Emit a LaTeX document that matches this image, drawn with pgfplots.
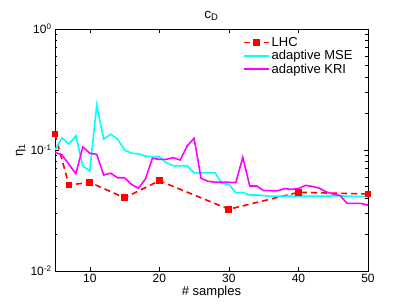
\documentclass[border=0pt]{standalone}
\usepackage{fontspec}
\setmainfont{Liberation Sans}
\usepackage{pgfplots}
\pgfplotsset{compat=1.18}
\definecolor{mcyan}{RGB}{0,255,255}
\definecolor{mmag}{RGB}{255,0,255}
\definecolor{mred}{RGB}{255,0,0}
\begin{document}
\begin{tikzpicture}
\useasboundingbox (-55pt,-35pt) rectangle (352pt,271pt);
\begin{axis}[
  at={(0pt,0pt)}, anchor=south west,
  scale only axis, width=313pt, height=242pt,
  xmin=5, xmax=50, ymode=log, ymin=0.01, ymax=1,
  xtick={10,20,30,40,50},
  ytick={0.01,0.1,1},
  yticklabels={10\textsuperscript{-2},10\textsuperscript{-1},10\textsuperscript{0}},
  /pgf/number format/assume math mode=true,
  tick label style={font=\fontsize{12}{14}\selectfont},
  tick align=inside, major tick length=4pt, minor tick length=2.5pt,
  xtick pos=both, ytick pos=both,
  axis line style={line width=0.6pt},
  every tick/.style={black, line width=0.5pt},
  title={c\textsubscript{D}},
  title style={font=\fontsize{13.5}{15}\selectfont, yshift=-1pt},
  xlabel={\# samples},
  ylabel={η\textsubscript{1}},
  label style={font=\fontsize{13}{15}\selectfont},
  xlabel style={yshift=4pt},
  ylabel style={yshift=-2pt},
  legend cell align=left,
  legend style={at={(0.597,0.979)}, anchor=north west, draw=none, fill=none,
    font=\fontsize{13}{15}\selectfont, row sep=-1.5pt, inner sep=1pt},
  legend image code/.code={\draw[#1, mark repeat=2, mark phase=2] plot coordinates {(0pt,0pt) (12.5pt,0pt) (25pt,0pt)};},
]
\addplot[mred, dashed, dash pattern=on 6pt off 4pt, line width=1.6pt, mark=square*, mark size=2.6pt, mark options={solid, fill=mred}]
coordinates {(5,0.1355) (7,0.0514) (10,0.054) (15,0.0403) (20,0.0557) (30,0.0324) (40,0.0447) (50,0.0433)};
\addlegendentry{LHC}
\addplot[mcyan, line width=1.6pt] coordinates {
(5,0.100) (6,0.126) (7,0.112) (8,0.131) (9,0.0738) (10,0.067) (11,0.235) (12,0.123) (13,0.135) (14,0.123)
(15,0.100) (16,0.094) (17,0.093) (18,0.089) (19,0.088) (20,0.088) (21,0.0785) (22,0.0741) (23,0.0741) (24,0.0741)
(25,0.0648) (26,0.0648) (27,0.0648) (28,0.0648) (29,0.053) (30,0.052) (31,0.0444) (32,0.0446) (33,0.0425) (34,0.0425)
(35,0.042) (36,0.0415) (37,0.0415) (38,0.0415) (39,0.0415) (40,0.0415) (41,0.0415) (42,0.0415) (43,0.0415) (44,0.0415)
(45,0.0418) (46,0.0418) (47,0.0415) (48,0.0414) (49,0.0413) (50,0.0412)};
\addlegendentry{adaptive MSE}
\addplot[mmag, line width=1.6pt] coordinates {
(5,0.0957) (6,0.091) (7,0.0762) (8,0.0637) (9,0.106) (10,0.094) (11,0.092) (12,0.0621) (13,0.0643) (14,0.059)
(15,0.059) (16,0.052) (17,0.0482) (18,0.0576) (19,0.0854) (20,0.0837) (21,0.0837) (22,0.0865) (23,0.0826) (24,0.108)
(25,0.125) (26,0.0583) (27,0.0552) (28,0.0541) (29,0.0541) (30,0.0541) (31,0.0538) (32,0.087) (33,0.0504) (34,0.0504)
(35,0.0461) (36,0.0461) (37,0.046) (38,0.0479) (39,0.0473) (40,0.048) (41,0.051) (42,0.050) (43,0.0484) (44,0.045)
(45,0.0433) (46,0.042) (47,0.0362) (48,0.0362) (49,0.0362) (50,0.0349)};
\addlegendentry{adaptive KRI}
\end{axis}
\end{tikzpicture}
\end{document}
